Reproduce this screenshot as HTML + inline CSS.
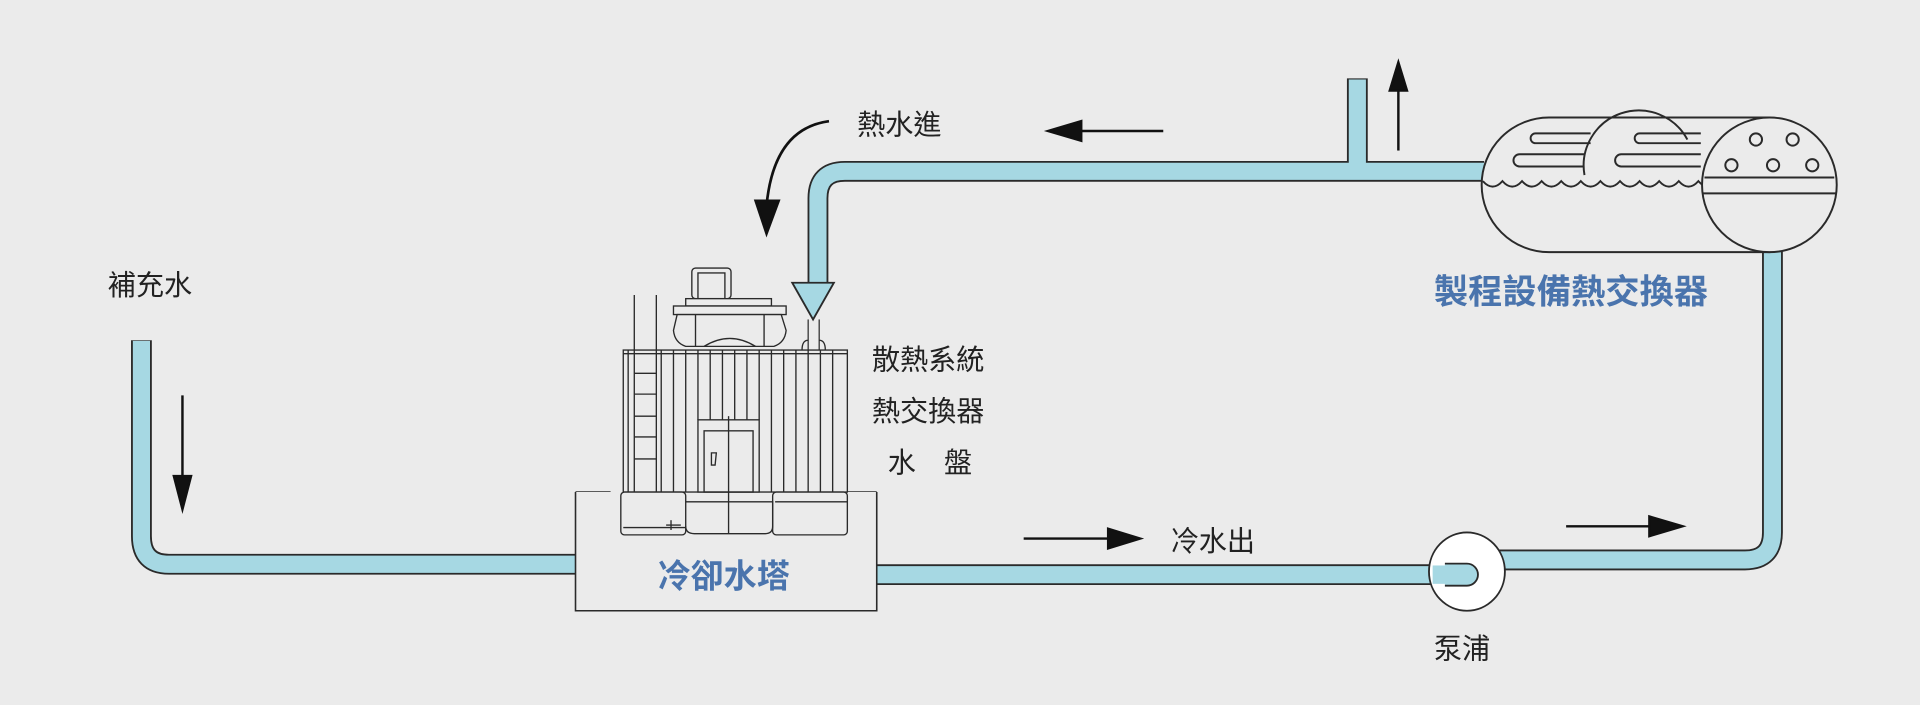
<!DOCTYPE html>
<html><head><meta charset="utf-8"><style>
html,body{margin:0;padding:0;background:#ebebeb;}
svg{display:block;}
text{font-family:"Liberation Sans","Noto Sans CJK TC",sans-serif;}
</style></head><body>
<svg width="1920" height="705" viewBox="0 0 1568 576" preserveAspectRatio="none" xmlns="http://www.w3.org/2000/svg">
<rect width="1568" height="576" fill="#ebebeb"/>
<g fill="none" stroke-linejoin="round">
<g stroke="#2a2a2a" stroke-width="17">
<path d="M115.5 278 V438 Q115.5 461 138 461 H472"/>
<path d="M714 469.5 H1198"/>
<path d="M1198 457.5 H1425 Q1447.5 457.5 1447.5 435 V205"/>
<path d="M1212 140 H690 Q668 140 668 162 V232"/>
<path d="M1108.5 64 V140"/>
</g>
<g stroke="#a6d8e3" stroke-width="14">
<path d="M115.5 278.5 V438 Q115.5 461 138 461 H472"/>
<path d="M714 469.5 H1198"/>
<path d="M1198 457.5 H1425 Q1447.5 457.5 1447.5 435 V206"/>
<path d="M1212 140 H690 Q668 140 668 162 V234"/>
<path d="M1108.5 65 V141"/>
</g>
</g>
<polygon points="647,231 681,231 664,261" fill="#a6d8e3" stroke="#2a2a2a" stroke-width="1.5"/>
<line x1="660" y1="261" x2="660" y2="287" stroke="#2a2a2a" stroke-width="1"/>
<line x1="669" y1="261" x2="669" y2="287" stroke="#2a2a2a" stroke-width="1"/>

<ellipse cx="1198" cy="467" rx="31" ry="32" fill="#fff" stroke="#2a2a2a" stroke-width="1.5"/>
<path d="M1180 460.5 H1198 A9 9 0 0 1 1198 478.5 H1180" fill="#a6d8e3" stroke="#2a2a2a" stroke-width="1.5"/>
<rect x="1170" y="462" width="20" height="15" fill="#a6d8e3"/>

<g fill="none" stroke="#2a2a2a" stroke-width="1.3">
<path d="M470 402 H498 V436 H507"/>
<path d="M716 402 H690 V437 H686"/>
<path d="M470 402 V499 H716 V402" fill="#ebebeb"/>
</g>
<g fill="none" stroke="#2a2a2a" stroke-width="1.1">
<rect x="509" y="286" width="183" height="116" fill="#ebebeb"/>
<line x1="509" y1="289" x2="692" y2="289"/>
<g>
<line x1="540" y1="286" x2="540" y2="402"/><line x1="550" y1="286" x2="550" y2="402"/>
<line x1="560" y1="286" x2="560" y2="402"/><line x1="570" y1="286" x2="570" y2="343"/>
<line x1="580" y1="286" x2="580" y2="343"/><line x1="590" y1="286" x2="590" y2="343"/>
<line x1="600" y1="286" x2="600" y2="343"/><line x1="610" y1="286" x2="610" y2="343"/>
<line x1="620" y1="286" x2="620" y2="343"/><line x1="630" y1="286" x2="630" y2="402"/>
<line x1="640" y1="286" x2="640" y2="402"/><line x1="650" y1="286" x2="650" y2="402"/>
<line x1="660" y1="286" x2="660" y2="402"/><line x1="670" y1="286" x2="670" y2="402"/>
<line x1="680" y1="286" x2="680" y2="402"/><line x1="513" y1="286" x2="513" y2="402"/>
</g>
<line x1="518" y1="241" x2="518" y2="416"/><line x1="536" y1="241" x2="536" y2="416"/>
<line x1="518" y1="305" x2="536" y2="305"/><line x1="518" y1="322" x2="536" y2="322"/>
<line x1="518" y1="340" x2="536" y2="340"/><line x1="518" y1="357" x2="536" y2="357"/>
<line x1="518" y1="375" x2="536" y2="375"/>
<rect x="570" y="343" width="50" height="59" fill="#ebebeb"/>
<rect x="575" y="352" width="40" height="50"/>
<line x1="595" y1="340" x2="595" y2="436"/>
<path d="M581 370 h4 l-1 10 h-3 z"/>
<rect x="507" y="402" width="53" height="35" rx="3" fill="#ebebeb"/>
<line x1="509" y1="431" x2="560" y2="431"/>
<rect x="631" y="402" width="61" height="35" rx="3" fill="#ebebeb"/>
<line x1="633" y1="410" x2="692" y2="410"/>
<path d="M560 410 H631 V430 Q631 436 625 436 H567 Q560 436 560 430"/>
<line x1="548" y1="425" x2="548" y2="433"/><line x1="544" y1="429" x2="556" y2="429"/>
<rect x="565" y="219" width="32" height="25" rx="3" fill="#ebebeb"/>
<rect x="570" y="223" width="22" height="21"/>
<rect x="560" y="244" width="70" height="6" fill="#ebebeb"/>
<rect x="550" y="250" width="92" height="7" fill="#ebebeb"/>
<path d="M553 257 L550 270 Q551 280 560 283 H632 Q641 280 642 270 L638 257 Z" fill="#ebebeb"/>
<path d="M568 257 V283 M624 257 V283 M575 283 Q596 270 617 283"/>
<path d="M655 286 Q655 278 660 278 M669 278 Q674 278 674 286"/>
</g>

<g fill="none" stroke="#2a2a2a" stroke-width="1.6">
<path d="M1265 96 H1445 V206 H1265 A55 55 0 0 1 1265 96 Z" fill="#ebebeb"/>
<path d="M1294 143 A45 45 0 0 1 1378 114"/>
<path d="M1299 109 H1254 A4 4 0 0 0 1254 117 H1299"/>
<path d="M1389 109 H1339 A4 4 0 0 0 1339 117 H1389"/>
<path d="M1294 126 H1241 A5 5 0 0 0 1241 136 H1294"/>
<path d="M1389 126 H1324 A5 5 0 0 0 1324 136 H1389"/>
<path d="M1211 148 q8 9 16 0 q8 9 16 0 q8 9 16 0 q8 9 16 0 q8 9 16 0 q8 9 16 0 q8 9 16 0 q8 9 16 0 q8 9 16 0 q8 9 16 0 q8 9 16 0 q8 9 16 0"/>
<ellipse cx="1445" cy="151" rx="55" ry="55" fill="#ebebeb"/>
<line x1="1392" y1="145" x2="1498" y2="145"/>
<line x1="1391" y1="158" x2="1499" y2="158"/>
<circle cx="1434" cy="114" r="5"/><circle cx="1464" cy="114" r="5"/>
<circle cx="1414" cy="135" r="5"/><circle cx="1448" cy="135" r="5"/><circle cx="1480" cy="135" r="5"/>
</g>

<g stroke="#111" stroke-width="2" fill="#111">
<line x1="149" y1="323" x2="149" y2="392"/><polygon points="142,389 156,389 149,416"/>
<line x1="880" y1="107" x2="950" y2="107"/><polygon points="883,99 883,115 856,107"/>
<line x1="1142" y1="123" x2="1142" y2="74"/><polygon points="1135,74 1149,74 1142,51"/>
<line x1="836" y1="440" x2="908" y2="440"/><polygon points="905,432 905,448 931,440"/>
<line x1="1279" y1="430" x2="1350" y2="430"/><polygon points="1347,422 1347,438 1374,430"/>
<path d="M677 99 Q632 105 626 168" fill="none" stroke-width="2.2"/><polygon points="617,164 636,164 626,191"/>
</g>

<g fill="#222" font-size="23">
<text x="700" y="110">熱水進</text>
<text x="88" y="241">補充水</text>
<text x="712" y="302">散熱系統</text>
<text x="712" y="344">熱交換器</text>
<text x="725" y="386">水　盤</text>
<text x="956" y="450">冷水出</text>
<text x="1171" y="538">泵浦</text>
</g>
<g fill="#4a74ad" font-weight="bold" font-size="27">
<text x="537" y="480">冷卻水塔</text>
<text x="1171" y="248" font-size="28">製程設備熱交換器</text>
</g>
</svg>
</body></html>
